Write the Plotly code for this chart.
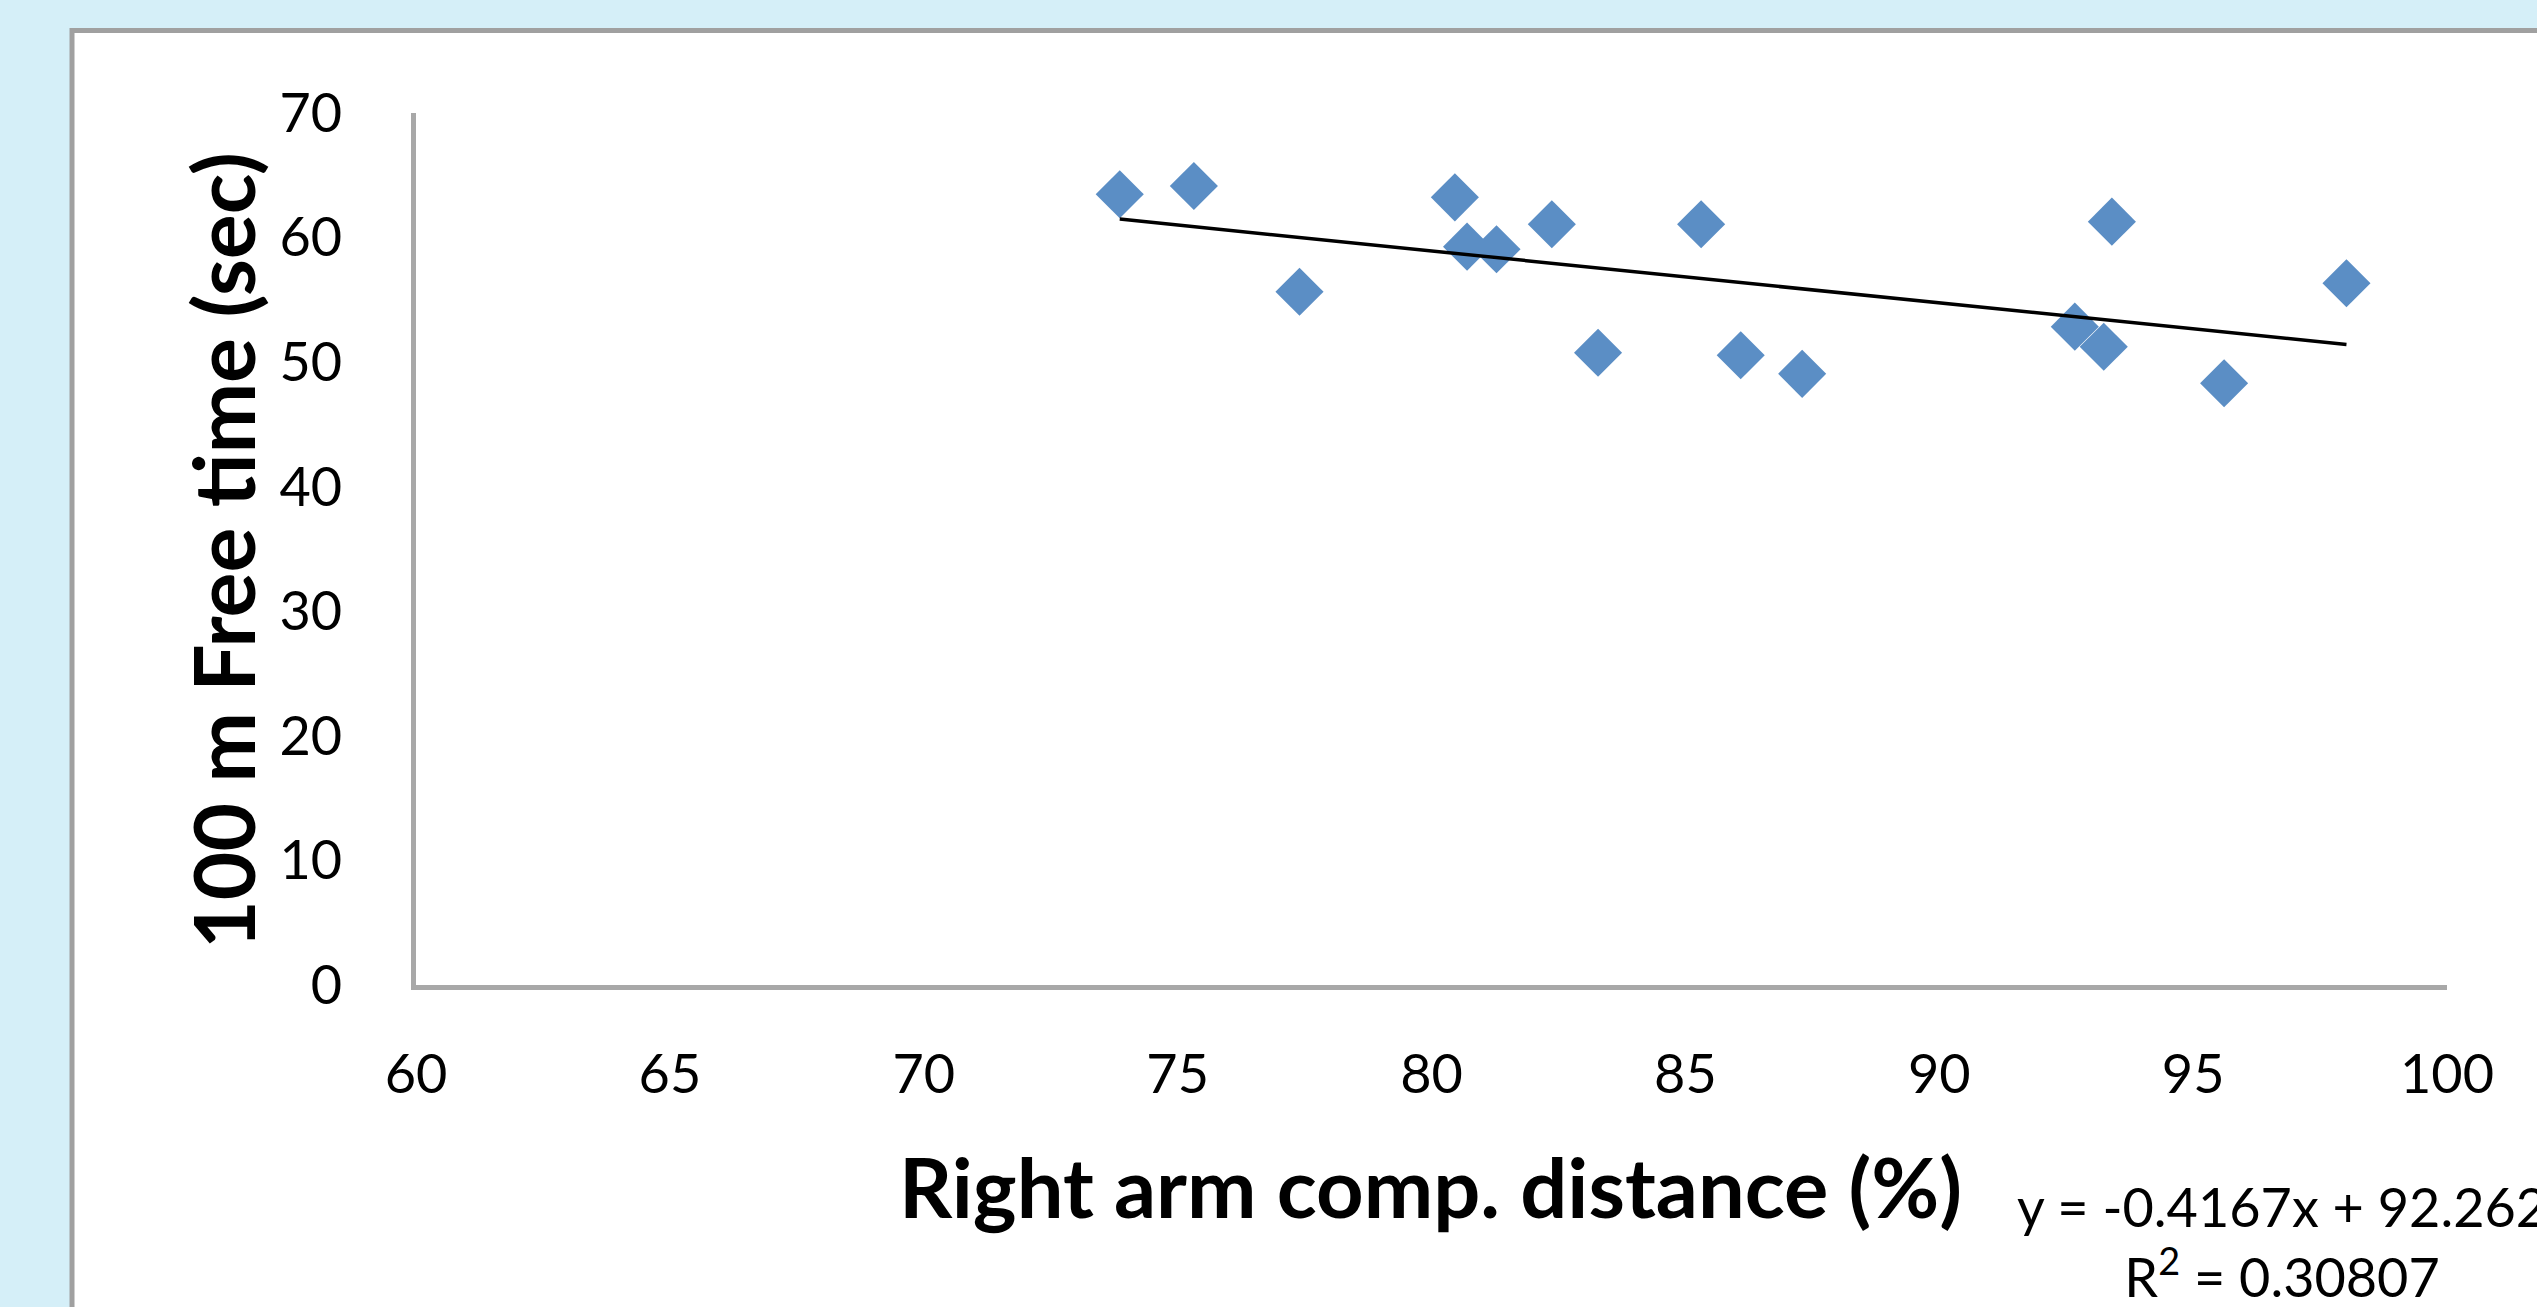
import plotly.graph_objects as go

# ---------------- data ----------------
x_values = [73.86, 75.32, 77.40, 80.46, 80.70, 81.28, 82.37, 83.28,
            85.31, 86.09, 87.30, 92.67, 93.24, 93.40, 95.61, 98.02]
y_values = [63.48, 64.14, 55.65, 63.23, 59.27, 59.06, 61.07, 50.76,
            61.07, 50.55, 49.06, 52.85, 51.24, 61.28, 48.30, 56.33]
trend_slope = -0.4167
trend_intercept = 92.262
r_squared = 0.30807
x_tick_values = [60, 65, 70, 75, 80, 85, 90, 95, 100]
y_tick_values = [0, 10, 20, 30, 40, 50, 60, 70]
x_title = "Right arm comp. distance (%)"
y_title = "100 m Free time (sec)"

# ---------------- layout geometry (pixels) ----------------
W, H = 2537, 1307
L, R, T, B = 416, 2447, 113, 985


def px_x(p):
    return (p - L) / (R - L)


def px_y(p):
    return (B - p) / (B - T)


FONT = "Lato"
MARKER_BLUE = "#5B8EC5"
AXIS_GREY = "#A8A8A8"

trend_x = [min(x_values), max(x_values)]
trend_y = [trend_slope * v + trend_intercept for v in trend_x]

fig = go.Figure()
fig.add_trace(go.Scatter(
    x=x_values, y=y_values, mode="markers",
    marker=dict(symbol="diamond", size=37, color=MARKER_BLUE, line=dict(width=0)),
    showlegend=False, hoverinfo="x+y",
))
fig.add_trace(go.Scatter(
    x=trend_x, y=trend_y, mode="lines",
    line=dict(color="black", width=3.5),
    showlegend=False, hoverinfo="skip",
))

fig.update_layout(
    width=W, height=H,
    margin=dict(l=L, r=W - R, t=T, b=H - B, autoexpand=False),
    paper_bgcolor="#D5EFF8",
    plot_bgcolor="rgba(0,0,0,0)",
    font=dict(family=FONT, color="black"),
    shapes=[dict(
        type="rect", xref="paper", yref="paper", layer="below",
        x0=px_x(72), x1=px_x(2800), y0=px_y(1500), y1=px_y(30.5),
        line=dict(color="#A0A0A0", width=5), fillcolor="white",
    )],
    annotations=[
        dict(text=x_title, xref="paper", yref="paper",
             x=px_x(1430), y=px_y(1186), xanchor="center", yanchor="middle",
             showarrow=False, font=dict(family=FONT, size=83, weight=700, color="black")),
        dict(text=y_title, xref="paper", yref="paper", textangle=-90,
             x=px_x(222), y=px_y(551), xanchor="center", yanchor="middle",
             showarrow=False, font=dict(family=FONT, size=84, weight=700, color="black")),
        dict(text=f"y = {trend_slope}x + {trend_intercept}<br>R<sup>2</sup> = {r_squared}",
             xref="paper", yref="paper", x=px_x(2282), y=px_y(1172),
             xanchor="center", yanchor="top", align="center", showarrow=False,
             font=dict(family=FONT, size=54, color="black")),
    ],
)

fig.update_xaxes(
    range=[60, 100], tickvals=x_tick_values, ticktext=[str(v) for v in x_tick_values],
    showline=True, linecolor=AXIS_GREY, linewidth=5, mirror=False,
    showgrid=False, zeroline=False, ticks="",
    tickfont=dict(family=FONT, size=54, color="black"),
    ticklabelstandoff=38, fixedrange=True,
)
fig.update_yaxes(
    range=[0, 70], tickvals=y_tick_values, ticktext=[str(v) for v in y_tick_values],
    showline=True, linecolor=AXIS_GREY, linewidth=5, mirror=False,
    showgrid=False, zeroline=False, ticks="",
    tickfont=dict(family=FONT, size=54, color="black"),
    ticklabelstandoff=58, fixedrange=True,
)

fig.write_html(
    "out.html",
    config={"displayModeBar": False},
    post_script="document.body.style.margin='0';document.body.style.overflow='hidden';",
)
